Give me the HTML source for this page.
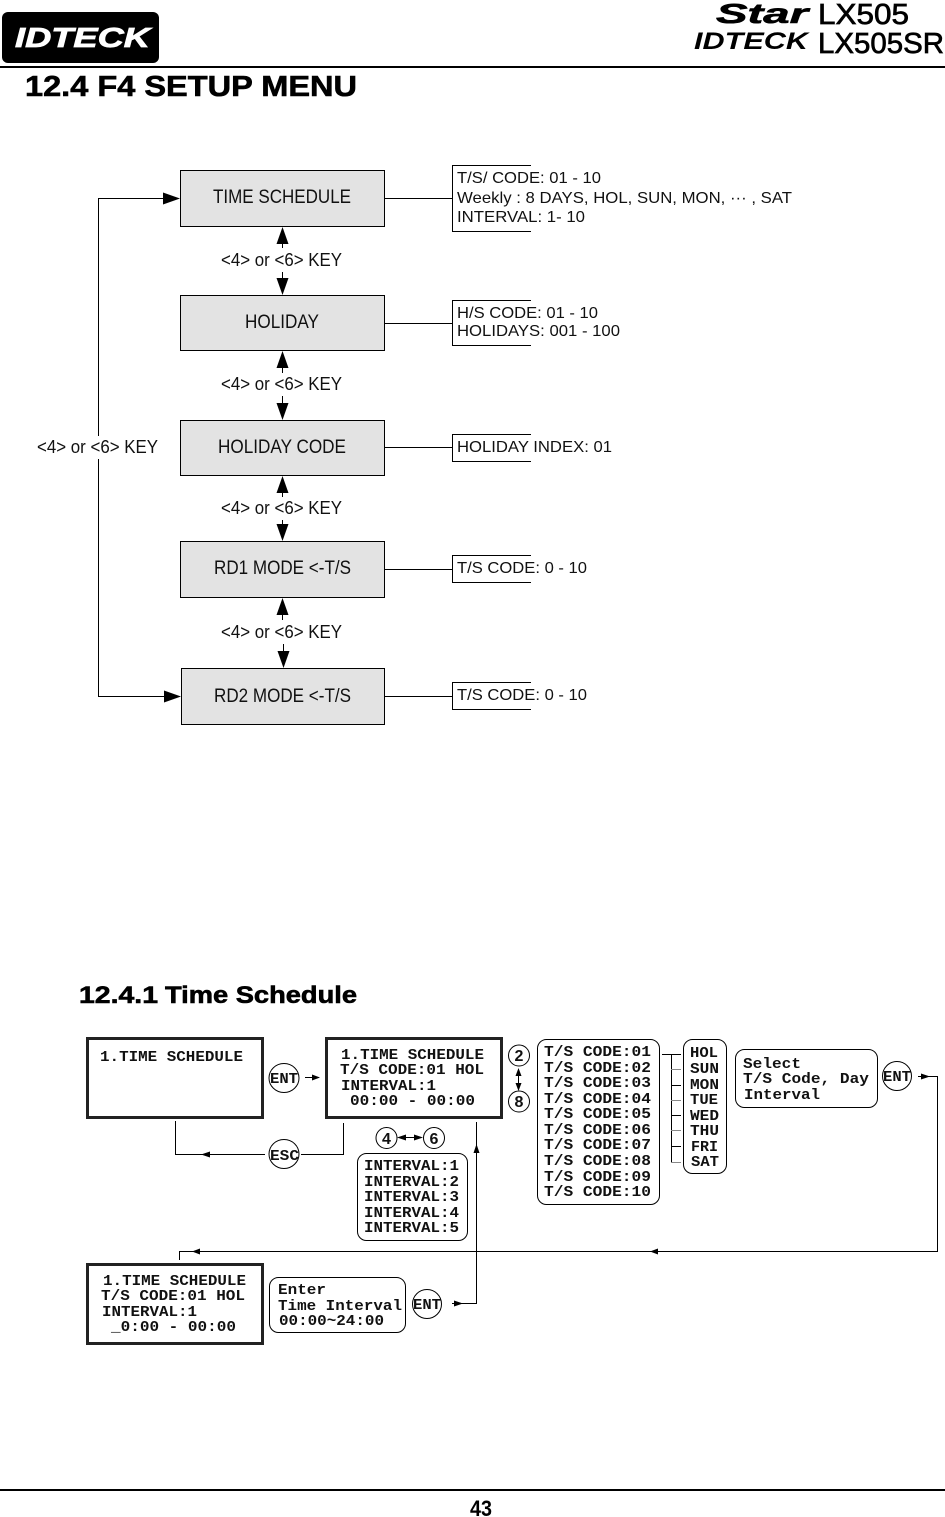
<!DOCTYPE html>
<html><head><meta charset="utf-8"><style>
html,body{margin:0;padding:0;background:#fff}
svg{display:block}
.s{font-family:"Liberation Sans",sans-serif;fill:#111}
.m{font-family:"Liberation Mono",monospace;font-weight:bold;fill:#111;font-size:15px}
.d{font-family:"Liberation Sans",sans-serif;font-weight:bold;fill:#111;font-size:16px;text-anchor:middle}
.t{font-family:"Liberation Sans",sans-serif;font-weight:bold;fill:#000;stroke:#000;stroke-width:.6}
.l{stroke:#000;stroke-width:1;fill:none;shape-rendering:crispEdges}
.g{stroke:#888;stroke-width:1;fill:none;shape-rendering:crispEdges}
.lcd{fill:#fff;stroke:#222;stroke-width:3}
.rb{fill:#fff;stroke:#000;stroke-width:1}
.c{fill:#fff;stroke:#000;stroke-width:1}
.b{fill:#e3e3e3;stroke:#000;stroke-width:1;shape-rendering:crispEdges}
</style></head><body>
<svg width="945" height="1517" viewBox="0 0 945 1517" xmlns="http://www.w3.org/2000/svg">
<defs>
<g id="up"><path d="M0 0l-6 17h12z" fill="#000"/></g>
<g id="dn"><path d="M0 0l-6 -17h12z" fill="#000"/></g>
</defs>
<!-- header -->
<rect x="2" y="12" width="157" height="51" rx="6" fill="#000"/>
<text x="15" y="47" class="s" font-size="28" font-weight="bold" font-style="italic" style="fill:#fff" stroke="#fff" stroke-width=".8" textLength="135" lengthAdjust="spacingAndGlyphs">IDTECK</text>
<text x="716" y="23" class="s" font-size="28" font-weight="bold" font-style="italic" style="fill:#000" stroke="#000" stroke-width=".6" textLength="92" lengthAdjust="spacingAndGlyphs">Star</text>
<text x="818" y="24" class="s" font-size="29" style="fill:#000" stroke="#000" stroke-width=".7" textLength="91" lengthAdjust="spacingAndGlyphs">LX505</text>
<text x="694" y="49" class="s" font-size="24" font-weight="bold" font-style="italic" style="fill:#000" textLength="114" lengthAdjust="spacingAndGlyphs">IDTECK</text>
<text x="818" y="53" class="s" font-size="29" style="fill:#000" stroke="#000" stroke-width=".7" textLength="126" lengthAdjust="spacingAndGlyphs">LX505SR</text>
<rect x="0" y="66" width="945" height="2" fill="#000"/>
<text x="25" y="96" class="t" font-size="29" textLength="332" lengthAdjust="spacingAndGlyphs">12.4 F4 SETUP MENU</text>

<!-- left loop -->
<path class="l" d="M98.500 436V198.500H165M98.500 459V696.500H165"/>
<path d="M180 198.500l-17 -6v12z" fill="#000"/>
<path d="M181 696.500l-17 -6v12z" fill="#000"/>
<text x="37" y="453" class="s" font-size="18" textLength="121" lengthAdjust="spacingAndGlyphs">&lt;4&gt; or &lt;6&gt; KEY</text>

<!-- boxes -->
<rect class="b" x="180.500" y="170.500" width="204" height="56"/>
<rect class="b" x="180.500" y="295.500" width="204" height="55"/>
<rect class="b" x="180.500" y="420.500" width="204" height="55"/>
<rect class="b" x="180.500" y="541.500" width="204" height="56"/>
<rect class="b" x="181.500" y="668.500" width="203" height="56"/>
<text x="213" y="203" class="s" font-size="19" textLength="138" lengthAdjust="spacingAndGlyphs">TIME SCHEDULE</text>
<text x="245" y="328" class="s" font-size="19" textLength="74" lengthAdjust="spacingAndGlyphs">HOLIDAY</text>
<text x="218" y="453" class="s" font-size="19" textLength="128" lengthAdjust="spacingAndGlyphs">HOLIDAY CODE</text>
<text x="214" y="574" class="s" font-size="19" textLength="137" lengthAdjust="spacingAndGlyphs">RD1 MODE &lt;-T/S</text>
<text x="214" y="702" class="s" font-size="19" textLength="137" lengthAdjust="spacingAndGlyphs">RD2 MODE &lt;-T/S</text>

<!-- vertical key connectors -->
<g>
<use href="#up" x="282.500" y="227"/><use href="#dn" x="282.500" y="295"/>
<use href="#up" x="282.500" y="351"/><use href="#dn" x="282.500" y="420"/>
<use href="#up" x="282.500" y="476"/><use href="#dn" x="282.500" y="541"/>
<use href="#up" x="282.500" y="598"/><use href="#dn" x="283.500" y="668"/>
</g>
<path class="l" d="M282.500 240V248M282.500 272V282M282.500 364V373M282.500 396V407M282.500 490V497M282.500 520V528M282.500 612V620M283.500 644V655"/>
<text x="221" y="266" class="s" font-size="18" textLength="121" lengthAdjust="spacingAndGlyphs">&lt;4&gt; or &lt;6&gt; KEY</text>
<text x="221" y="390" class="s" font-size="18" textLength="121" lengthAdjust="spacingAndGlyphs">&lt;4&gt; or &lt;6&gt; KEY</text>
<text x="221" y="514" class="s" font-size="18" textLength="121" lengthAdjust="spacingAndGlyphs">&lt;4&gt; or &lt;6&gt; KEY</text>
<text x="221" y="638" class="s" font-size="18" textLength="121" lengthAdjust="spacingAndGlyphs">&lt;4&gt; or &lt;6&gt; KEY</text>

<!-- right brackets -->
<path class="l" d="M385 198.500H452.500M531 165.500H452.500V231.500H531"/>
<path class="l" d="M385 323.500H452.500M531 300.500H452.500V345.500H531"/>
<path class="l" d="M385 447.500H452.500M531 434.500H452.500V461.500H531"/>
<path class="l" d="M385 569.500H452.500M531 555.500H452.500V582.500H531"/>
<path class="l" d="M385 696.500H452.500M531 682.500H452.500V709.500H531"/>
<text x="457" y="183" class="s" font-size="16" textLength="144" lengthAdjust="spacingAndGlyphs">T/S/ CODE: 01 - 10</text>
<text x="457" y="203" class="s" font-size="16" textLength="335" lengthAdjust="spacingAndGlyphs">Weekly : 8 DAYS, HOL, SUN, MON, ··· , SAT</text>
<text x="457" y="222" class="s" font-size="16" textLength="128" lengthAdjust="spacingAndGlyphs">INTERVAL: 1- 10</text>
<text x="457" y="318" class="s" font-size="16" textLength="141" lengthAdjust="spacingAndGlyphs">H/S CODE: 01 - 10</text>
<text x="457" y="336" class="s" font-size="16" textLength="163" lengthAdjust="spacingAndGlyphs">HOLIDAYS: 001 - 100</text>
<text x="457" y="452" class="s" font-size="16" textLength="155" lengthAdjust="spacingAndGlyphs">HOLIDAY INDEX: 01</text>
<text x="457" y="573" class="s" font-size="16" textLength="130" lengthAdjust="spacingAndGlyphs">T/S CODE: 0 - 10</text>
<text x="457" y="700" class="s" font-size="16" textLength="130" lengthAdjust="spacingAndGlyphs">T/S CODE: 0 - 10</text>

<!-- section 2 title -->
<text x="79" y="1003" class="t" font-size="24" textLength="79" lengthAdjust="spacingAndGlyphs">12.4.1</text>
<text x="165" y="1003" class="t" font-size="24" textLength="192" lengthAdjust="spacingAndGlyphs">Time Schedule</text>

<!-- LCD boxes -->
<rect class="lcd" x="87.500" y="1038.500" width="175" height="79"/>
<rect class="lcd" x="326.500" y="1038.500" width="175" height="79"/>
<rect class="lcd" x="87.500" y="1264.500" width="175" height="79"/>
<text x="100" y="1061" class="m" textLength="143" lengthAdjust="spacingAndGlyphs">1.TIME SCHEDULE</text>
<text x="341" y="1059" class="m" textLength="143" lengthAdjust="spacingAndGlyphs">1.TIME SCHEDULE</text>
<text x="340" y="1074" class="m" textLength="144" lengthAdjust="spacingAndGlyphs">T/S CODE:01 HOL</text>
<text x="341" y="1090" class="m" textLength="95" lengthAdjust="spacingAndGlyphs">INTERVAL:1</text>
<text x="350" y="1105" class="m" textLength="125" lengthAdjust="spacingAndGlyphs">00:00 - 00:00</text>
<text x="103" y="1285" class="m" textLength="143" lengthAdjust="spacingAndGlyphs">1.TIME SCHEDULE</text>
<text x="101" y="1300" class="m" textLength="144" lengthAdjust="spacingAndGlyphs">T/S CODE:01 HOL</text>
<text x="102" y="1316" class="m" textLength="95" lengthAdjust="spacingAndGlyphs">INTERVAL:1</text>
<text x="111" y="1331" class="m" textLength="125" lengthAdjust="spacingAndGlyphs">_0:00 - 00:00</text>

<!-- connectors -->
<path class="l" d="M175.500 1121V1154.500H265M343.500 1123V1154.500H301"/>
<path d="M201 1154.500l9 -3v6z" fill="#000"/>
<path class="l" d="M305 1077.500H319"/><path d="M320 1077.500l-8 -3v6z" fill="#000"/>
<path class="l" d="M476.500 1122V1303.500H452"/>
<path d="M476.500 1144l-3 9h6z" fill="#000"/>
<path d="M463 1303.500l-9 -3v6z" fill="#000"/>
<path class="l" d="M179.500 1260V1251.500H937.500V1076.500H918"/>
<path d="M192 1251.500l8 -3v6z" fill="#000"/>
<path d="M650 1251.500l8 -3v6z" fill="#000"/>
<path d="M930 1076.500l-9 -3v6z" fill="#000"/>
<path class="l" d="M399 1137.500H421"/>
<path d="M397 1137.500l9 -3v6zM423 1137.500l-9 -3v6z" fill="#000"/>
<path class="l" d="M518.500 1070V1088"/>
<path d="M518.500 1068l-3 8h6zM518.500 1091l-3 -8h6z" fill="#000"/>

<!-- circles -->
<g>
<ellipse class="c" cx="284" cy="1078" rx="15" ry="14.500"/>
<ellipse class="c" cx="284" cy="1154" rx="15" ry="14.500"/>
<ellipse class="c" cx="427" cy="1304" rx="14.500" ry="14.500"/>
<ellipse class="c" cx="897" cy="1076" rx="14.500" ry="14.500"/>
<circle class="c" cx="386.500" cy="1138" r="10.500"/>
<circle class="c" cx="434" cy="1138" r="10.500"/>
<circle class="c" cx="519" cy="1055.500" r="10.500"/>
<circle class="c" cx="519" cy="1101.500" r="10.500"/>
</g>
<text x="270" y="1083" class="m" textLength="28" lengthAdjust="spacingAndGlyphs">ENT</text>
<text x="270" y="1160" class="m" textLength="29" lengthAdjust="spacingAndGlyphs">ESC</text>
<text x="413" y="1309" class="m" textLength="28" lengthAdjust="spacingAndGlyphs">ENT</text>
<text x="883" y="1081" class="m" textLength="28" lengthAdjust="spacingAndGlyphs">ENT</text>
<text x="386.500" y="1144" class="d">4</text>
<text x="434" y="1144" class="d">6</text>
<text x="519" y="1061" class="d">2</text>
<text x="519" y="1107" class="d">8</text>

<!-- interval box -->
<rect class="rb" x="357.500" y="1153.500" width="110" height="87" rx="9"/>
<text x="364" y="1170" class="m" textLength="95" lengthAdjust="spacingAndGlyphs">INTERVAL:1</text>
<text x="364" y="1186" class="m" textLength="95" lengthAdjust="spacingAndGlyphs">INTERVAL:2</text>
<text x="364" y="1201" class="m" textLength="95" lengthAdjust="spacingAndGlyphs">INTERVAL:3</text>
<text x="364" y="1217" class="m" textLength="95" lengthAdjust="spacingAndGlyphs">INTERVAL:4</text>
<text x="364" y="1232" class="m" textLength="95" lengthAdjust="spacingAndGlyphs">INTERVAL:5</text>

<!-- T/S box -->
<rect class="rb" x="537.500" y="1039.500" width="122" height="165" rx="9"/>
<text x="544" y="1056" class="m" textLength="107" lengthAdjust="spacingAndGlyphs">T/S CODE:01</text>
<text x="544" y="1072" class="m" textLength="107" lengthAdjust="spacingAndGlyphs">T/S CODE:02</text>
<text x="544" y="1087" class="m" textLength="107" lengthAdjust="spacingAndGlyphs">T/S CODE:03</text>
<text x="544" y="1103" class="m" textLength="107" lengthAdjust="spacingAndGlyphs">T/S CODE:04</text>
<text x="544" y="1118" class="m" textLength="107" lengthAdjust="spacingAndGlyphs">T/S CODE:05</text>
<text x="544" y="1134" class="m" textLength="107" lengthAdjust="spacingAndGlyphs">T/S CODE:06</text>
<text x="544" y="1149" class="m" textLength="107" lengthAdjust="spacingAndGlyphs">T/S CODE:07</text>
<text x="544" y="1165" class="m" textLength="107" lengthAdjust="spacingAndGlyphs">T/S CODE:08</text>
<text x="544" y="1181" class="m" textLength="107" lengthAdjust="spacingAndGlyphs">T/S CODE:09</text>
<text x="544" y="1196" class="m" textLength="107" lengthAdjust="spacingAndGlyphs">T/S CODE:10</text>

<!-- day tree -->
<path class="l" d="M662 1054.500H681M671.500 1054V1162.500"/>
<path class="l" d="M671 1085.500H681M671 1115.500H681M671 1146.500H681"/>
<path class="g" d="M671 1069.500H681M671 1100.500H681M671 1130.500H681M671 1162.500H681"/>
<rect class="rb" x="683.500" y="1039.500" width="43" height="134" rx="9"/>
<text x="690" y="1057" class="m" textLength="28" lengthAdjust="spacingAndGlyphs">HOL</text>
<text x="690" y="1073" class="m" textLength="29" lengthAdjust="spacingAndGlyphs">SUN</text>
<text x="690" y="1089" class="m" textLength="29" lengthAdjust="spacingAndGlyphs">MON</text>
<text x="690" y="1104" class="m" textLength="28" lengthAdjust="spacingAndGlyphs">TUE</text>
<text x="690" y="1120" class="m" textLength="29" lengthAdjust="spacingAndGlyphs">WED</text>
<text x="690" y="1135" class="m" textLength="29" lengthAdjust="spacingAndGlyphs">THU</text>
<text x="691" y="1151" class="m" textLength="27" lengthAdjust="spacingAndGlyphs">FRI</text>
<text x="691" y="1166" class="m" textLength="28" lengthAdjust="spacingAndGlyphs">SAT</text>

<!-- select box -->
<rect class="rb" x="735.500" y="1049.500" width="142" height="58" rx="9"/>
<text x="743" y="1068" class="m" textLength="58" lengthAdjust="spacingAndGlyphs">Select</text>
<text x="743" y="1083" class="m" textLength="126" lengthAdjust="spacingAndGlyphs">T/S Code, Day</text>
<text x="744" y="1099" class="m" textLength="76" lengthAdjust="spacingAndGlyphs">Interval</text>

<!-- enter box -->
<rect class="rb" x="269.500" y="1277.500" width="136" height="55" rx="9"/>
<text x="278" y="1294" class="m" textLength="48" lengthAdjust="spacingAndGlyphs">Enter</text>
<text x="278" y="1310" class="m" textLength="124" lengthAdjust="spacingAndGlyphs">Time Interval</text>
<text x="279" y="1325" class="m" textLength="105" lengthAdjust="spacingAndGlyphs">00:00~24:00</text>

<!-- footer -->
<rect x="0" y="1489" width="945" height="2" fill="#000"/>
<text x="470" y="1516" class="s" font-size="22" font-weight="bold" style="fill:#000" textLength="22" lengthAdjust="spacingAndGlyphs">43</text>
</svg>
</body></html>
